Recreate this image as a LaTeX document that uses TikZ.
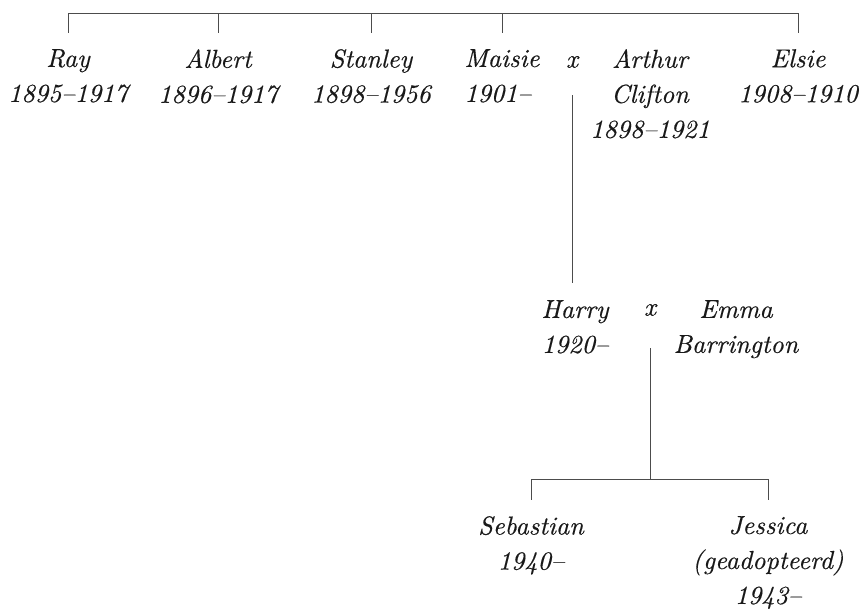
\documentclass[tikz,border=0pt]{standalone}
\usepackage{fontspec}
\newfontfamily\famfont[Extension=.otf, Ligatures=TeX, FakeBold=0.4]{lmroman10-italic}
\usepackage{tikz}

\begin{document}
\begin{tikzpicture}[x=1pt, y=-1pt,
    person/.style={anchor=north, inner sep=0pt, align=center, text=black!90,
        font=\famfont\fontsize{26}{35}\selectfont},
    wed/.style={inner sep=0pt, text=black!90, font=\famfont\fontsize{26}{35}\selectfont},
    line/.style={draw=black!70, line width=0.9pt}]
    \useasboundingbox (0,0) rectangle (863,609);

    \node[person] (ray) at (68, 49) {Ray\\1895--1917};
    \node[person] (albert) at (218, 49) {Albert\\1896--1917};
    \node[person] (stanley) at (371, 49) {Stanley\\1898--1956};
    \node[person, align=left] (maisie) at (502, 49) {Maisie\\1901--};
    \node[wed] (m1) at (572, 62) {x};
    \node[person] (arthur) at (650, 49) {Arthur\\Clifton\\1898--1921};
    \node[person] (elsie) at (798, 49) {Elsie\\1908--1910};

    \node[person] (harry) at (575, 300) {Harry\\1920--};
    \node[wed] (m2) at (650, 310) {x};
    \node[person] (emma) at (736, 300) {Emma\\Barrington};

    \node[person] (sebastian) at (531, 516) {Sebastian\\1940--};
    \node[person] (jessica) at (768, 516) {Jessica\\(geadopteerd)\\1943--};

    \coordinate (top) at (0, 13);
    \coordinate (mid) at (0, 479);

    % children of the first generation
    \draw[line, shorten <=16pt, shorten >=16pt]
        (ray.north) -- (ray.north |- top) -- (elsie.north |- top) -- (elsie.north);
    \foreach \p in {albert, stanley, maisie}
        \draw[line, shorten <=16pt] (\p.north) -- (\p.north |- top);

    % Maisie x Arthur
    \draw[line, shorten <=27pt, shorten >=17pt] (m1.south) -- (m1.south |- harry.north);

    % Harry x Emma
    \draw[line, shorten <=32pt] (m2.south) -- (m2.south |- mid);
    \draw[line, shorten <=16pt, shorten >=16pt]
        (sebastian.north) -- (sebastian.north |- mid) -- (jessica.north |- mid) -- (jessica.north);
\end{tikzpicture}
\end{document}
